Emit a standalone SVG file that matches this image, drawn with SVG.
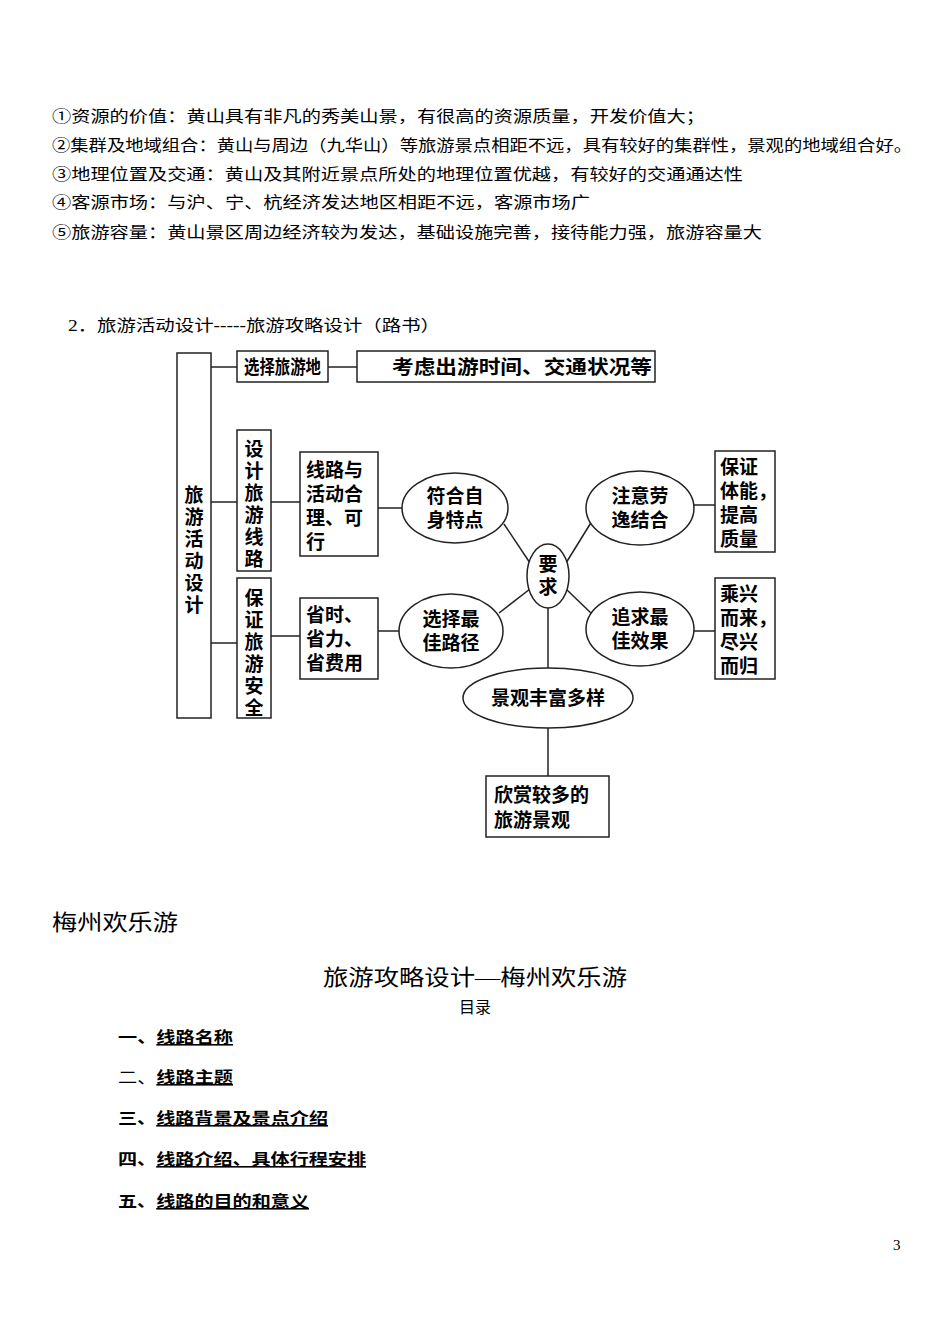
<svg xmlns="http://www.w3.org/2000/svg" width="950" height="1342" viewBox="0 0 950 1342">
<style>
text{font-family:"Liberation Serif","Noto Sans CJK SC",serif;fill:#000}
.t{font-size:16px}
.d{font-size:19px;font-weight:bold}
.b{fill:#fff;stroke:#222;stroke-width:1.5}
.c line,.c polyline{stroke:#222;stroke-width:1.5;fill:none}
.h{font-size:16px;font-weight:bold}
.u{text-decoration:underline}
</style>
<rect width="950" height="1342" fill="#fff"/>
<text class="t" x="52" y="122" textLength="653" lengthAdjust="spacingAndGlyphs">①资源的价值：黄山具有非凡的秀美山景，有很高的资源质量，开发价值大；</text>
<text class="t" x="52" y="151" textLength="860" lengthAdjust="spacingAndGlyphs">②集群及地域组合：黄山与周边（九华山）等旅游景点相距不远，具有较好的集群性，景观的地域组合好。</text>
<text class="t" x="52" y="180" textLength="691" lengthAdjust="spacingAndGlyphs">③地理位置及交通：黄山及其附近景点所处的地理位置优越，有较好的交通通达性</text>
<text class="t" x="52" y="208" textLength="538" lengthAdjust="spacingAndGlyphs">④客源市场：与沪、宁、杭经济发达地区相距不远，客源市场广</text>
<text class="t" x="52" y="238" textLength="710" lengthAdjust="spacingAndGlyphs">⑤旅游容量：黄山景区周边经济较为发达，基础设施完善，接待能力强，旅游容量大</text>
<text class="t" x="68" y="331" font-size="15" textLength="372" lengthAdjust="spacingAndGlyphs">2．旅游活动设计-----旅游攻略设计（路书）</text>
<g class="c" id="connectors">
<line x1="211" y1="367" x2="237" y2="367"/>
<line x1="328" y1="367" x2="357" y2="367"/>
<line x1="211" y1="502" x2="237" y2="502"/>
<line x1="211" y1="643" x2="237" y2="643"/>
<line x1="271" y1="502" x2="300" y2="502"/>
<line x1="271" y1="636" x2="300" y2="636"/>
<line x1="378" y1="508" x2="402" y2="508"/>
<line x1="378" y1="631" x2="399" y2="631"/>
<line x1="504" y1="524" x2="530" y2="563"/>
<line x1="566" y1="563" x2="592" y2="521"/>
<line x1="499" y1="613" x2="530" y2="589"/>
<line x1="566" y1="589" x2="592" y2="614"/>
<line x1="694" y1="505" x2="715" y2="505"/>
<line x1="694" y1="631" x2="715" y2="631"/>
<line x1="548" y1="608" x2="548" y2="668"/>
<line x1="548" y1="728" x2="548" y2="776"/>
</g>
<g id="n1"><rect class="b" x="177" y="353" width="34" height="365"/>
<text class="d" x="194" text-anchor="middle"><tspan x="194" y="502">旅</tspan><tspan x="194" y="524">游</tspan><tspan x="194" y="546">活</tspan><tspan x="194" y="568">动</tspan><tspan x="194" y="590">设</tspan><tspan x="194" y="612">计</tspan></text></g>
<g id="n2"><rect class="b" x="237" y="351" width="91" height="31"/><text class="d" x="244" y="374" textLength="77" lengthAdjust="spacingAndGlyphs">选择旅游地</text></g>
<g id="n3"><rect class="b" x="357" y="351" width="298" height="31"/><text class="d" x="392" y="374" textLength="260" lengthAdjust="spacingAndGlyphs">考虑出游时间、交通状况等</text></g>
<g id="n4"><rect class="b" x="237" y="430" width="34" height="141"/>
<text class="d" text-anchor="middle"><tspan x="254" y="456">设</tspan><tspan x="254" y="478">计</tspan><tspan x="254" y="500">旅</tspan><tspan x="254" y="522">游</tspan><tspan x="254" y="544">线</tspan><tspan x="254" y="566">路</tspan></text></g>
<g id="n5"><rect class="b" x="237" y="578" width="34" height="140"/>
<text class="d" text-anchor="middle"><tspan x="254" y="605">保</tspan><tspan x="254" y="627">证</tspan><tspan x="254" y="649">旅</tspan><tspan x="254" y="671">游</tspan><tspan x="254" y="693">安</tspan><tspan x="254" y="715">全</tspan></text></g>
<g id="n6"><rect class="b" x="300" y="452" width="78" height="104"/>
<text class="d"><tspan x="306" y="477">线路与</tspan><tspan x="306" y="501">活动合</tspan><tspan x="306" y="525">理、可</tspan><tspan x="306" y="549">行</tspan></text></g>
<g id="n7"><rect class="b" x="300" y="598" width="78" height="81"/>
<text class="d"><tspan x="306" y="622">省时、</tspan><tspan x="306" y="646">省力、</tspan><tspan x="306" y="670">省费用</tspan></text></g>
<g id="n8"><ellipse class="b" cx="455" cy="508" rx="53" ry="35"/>
<text class="d" text-anchor="middle"><tspan x="455" y="503">符合自</tspan><tspan x="455" y="527">身特点</tspan></text></g>
<g id="n9"><ellipse class="b" cx="451" cy="631" rx="52" ry="37"/>
<text class="d" text-anchor="middle"><tspan x="451" y="626">选择最</tspan><tspan x="451" y="650">佳路径</tspan></text></g>
<g id="n10"><ellipse class="b" cx="548" cy="576" rx="21" ry="32"/>
<text class="d" text-anchor="middle"><tspan x="548" y="571">要</tspan><tspan x="548" y="594">求</tspan></text></g>
<g id="n11"><ellipse class="b" cx="640" cy="508" rx="54" ry="37"/>
<text class="d" text-anchor="middle"><tspan x="640" y="503">注意劳</tspan><tspan x="640" y="527">逸结合</tspan></text></g>
<g id="n12"><ellipse class="b" cx="640" cy="629" rx="54" ry="37"/>
<text class="d" text-anchor="middle"><tspan x="640" y="624">追求最</tspan><tspan x="640" y="648">佳效果</tspan></text></g>
<g id="n13"><rect class="b" x="715" y="451" width="60" height="101"/>
<text class="d"><tspan x="720" y="474">保证</tspan><tspan x="720" y="498">体能，</tspan><tspan x="720" y="522">提高</tspan><tspan x="720" y="546">质量</tspan></text></g>
<g id="n14"><rect class="b" x="715" y="578" width="60" height="101"/>
<text class="d"><tspan x="720" y="601">乘兴</tspan><tspan x="720" y="625">而来，</tspan><tspan x="720" y="649">尽兴</tspan><tspan x="720" y="673">而归</tspan></text></g>
<g id="n15"><ellipse class="b" cx="548" cy="698" rx="85" ry="30"/><text class="d" x="548" y="705" text-anchor="middle">景观丰富多样</text></g>
<g id="n16"><rect class="b" x="486" y="776" width="123" height="61"/>
<text class="d"><tspan x="494" y="802">欣赏较多的</tspan><tspan x="494" y="827">旅游景观</tspan></text></g>
<text x="52" y="930" font-size="22" textLength="126" lengthAdjust="spacingAndGlyphs">梅州欢乐游</text>
<text x="323" y="985" font-size="22" textLength="304" lengthAdjust="spacingAndGlyphs">旅游攻略设计—梅州欢乐游</text>
<text x="475" y="1013" font-size="16" text-anchor="middle">目录</text>
<text class="h" x="118" y="1043" textLength="115" lengthAdjust="spacingAndGlyphs">一、<tspan class="u">线路名称</tspan></text>
<text class="h" x="118" y="1083" textLength="115" lengthAdjust="spacingAndGlyphs"><tspan font-weight="normal">二、</tspan><tspan class="u">线路主题</tspan></text>
<text class="h" x="118" y="1124" textLength="210" lengthAdjust="spacingAndGlyphs">三、<tspan class="u">线路背景及景点介绍</tspan></text>
<text class="h" x="118" y="1165" textLength="248" lengthAdjust="spacingAndGlyphs">四、<tspan class="u">线路介绍、具体行程安排</tspan></text>
<text class="h" x="118" y="1207" textLength="191" lengthAdjust="spacingAndGlyphs">五、<tspan class="u">线路的目的和意义</tspan></text>
<text x="893" y="1250" font-size="15">3</text>
</svg>
